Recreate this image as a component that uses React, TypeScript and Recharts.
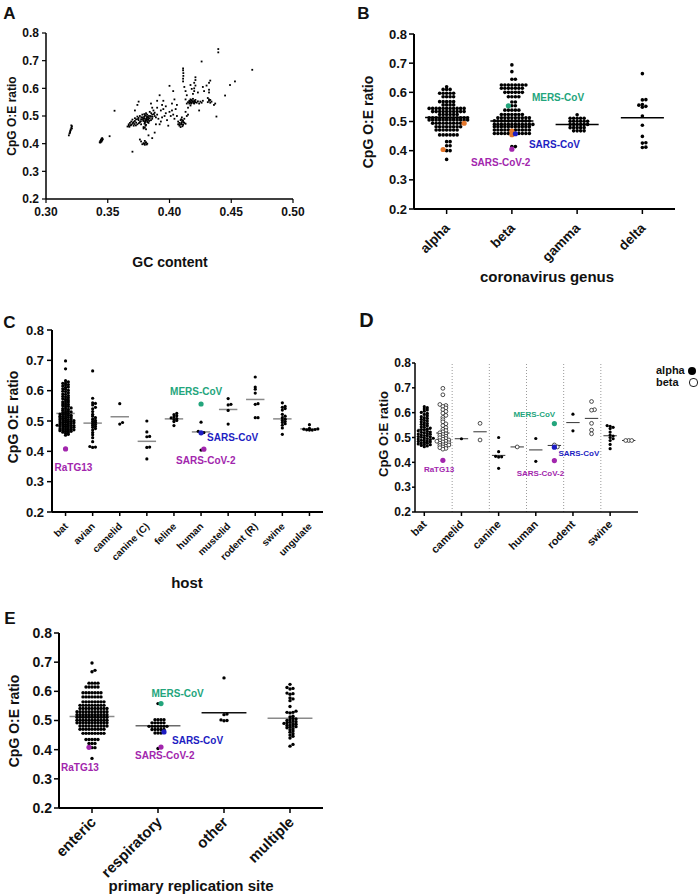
import React from 'react';
import { ScatterChart, Scatter, XAxis, YAxis, ReferenceLine } from 'recharts';

const FONT = '"Liberation Sans", Arial, Helvetica, sans-serif';

// ---------- A: GC content vs CpG O:E ----------
const gcVsCpg: [number, number][] = [
  [0.3185, 0.43], [0.319, 0.437], [0.3195, 0.445], [0.32, 0.452], [0.3205, 0.458], [0.321, 0.463], [0.3205, 0.466], [0.321, 0.455], [0.3195, 0.44], [0.32, 0.448],
  [0.3435, 0.405], [0.344, 0.41], [0.3445, 0.414], [0.345, 0.418], [0.345, 0.408], [0.3455, 0.412], [0.346, 0.416], [0.344, 0.404], [0.3455, 0.42], [0.3445, 0.407],
  [0.3515, 0.427], [0.3555, 0.519], [0.37, 0.371],
  [0.366, 0.462], [0.367, 0.47], [0.367, 0.465], [0.368, 0.475], [0.369, 0.468], [0.369, 0.48], [0.37, 0.472], [0.37, 0.487], [0.371, 0.478], [0.371, 0.465],
  [0.372, 0.482], [0.372, 0.492], [0.373, 0.476], [0.373, 0.488], [0.374, 0.498], [0.374, 0.47], [0.375, 0.485], [0.375, 0.493], [0.376, 0.478], [0.376, 0.5],
  [0.377, 0.488], [0.377, 0.47], [0.378, 0.495], [0.378, 0.505], [0.379, 0.482], [0.379, 0.46], [0.38, 0.49], [0.38, 0.5], [0.38, 0.475], [0.381, 0.51],
  [0.381, 0.485], [0.381, 0.468], [0.382, 0.495], [0.382, 0.48], [0.382, 0.505], [0.383, 0.488], [0.383, 0.475], [0.383, 0.5], [0.384, 0.492], [0.384, 0.515],
  [0.385, 0.485], [0.385, 0.498], [0.386, 0.505], [0.386, 0.49], [0.387, 0.52], [0.388, 0.5], [0.388, 0.512], [0.389, 0.495], [0.39, 0.53], [0.39, 0.505],
  [0.3805, 0.483], [0.3815, 0.492], [0.3795, 0.497], [0.3825, 0.486], [0.3785, 0.489], [0.3808, 0.503], [0.3822, 0.478], [0.3798, 0.472],
  [0.3802, 0.479], [0.3812, 0.488], [0.3792, 0.492], [0.3818, 0.497], [0.3788, 0.484], [0.3828, 0.493], [0.3806, 0.465], [0.3796, 0.507],
  [0.3768, 0.481], [0.3772, 0.495], [0.3836, 0.482], [0.3842, 0.5], [0.3752, 0.474], [0.3745, 0.489], [0.3716, 0.471], [0.3705, 0.476],
  [0.3685, 0.466], [0.3675, 0.461], [0.3728, 0.466], [0.3862, 0.497], [0.3852, 0.51], [0.3874, 0.507],
  [0.379, 0.455], [0.381, 0.452], [0.38, 0.458],
  [0.378, 0.398], [0.379, 0.402], [0.38, 0.396], [0.381, 0.405], [0.382, 0.4], [0.38, 0.41], [0.376, 0.415], [0.377, 0.408],
  [0.3795, 0.399], [0.3805, 0.403], [0.3815, 0.397],
  [0.375, 0.552], [0.372, 0.52], [0.374, 0.54], [0.385, 0.545], [0.386, 0.53], [0.388, 0.44], [0.383, 0.43], [0.386, 0.42], [0.392, 0.47], [0.393, 0.48],
  [0.394, 0.54], [0.395, 0.555], [0.395, 0.525], [0.396, 0.5], [0.397, 0.535], [0.398, 0.485], [0.399, 0.465], [0.392, 0.575], [0.39, 0.555],
  [0.393, 0.52], [0.397, 0.51], [0.391, 0.49], [0.389, 0.47], [0.394, 0.495],
  [0.4, 0.515], [0.401, 0.5], [0.402, 0.52], [0.403, 0.505], [0.404, 0.49], [0.405, 0.525], [0.406, 0.5], [0.407, 0.48], [0.407, 0.47], [0.408, 0.465],
  [0.408, 0.475], [0.409, 0.46], [0.409, 0.485], [0.41, 0.47], [0.41, 0.478], [0.41, 0.495], [0.411, 0.468], [0.411, 0.482], [0.412, 0.475], [0.412, 0.49],
  [0.413, 0.472], [0.414, 0.5], [0.413, 0.515], [0.415, 0.505],
  [0.4085, 0.469], [0.4095, 0.474], [0.4105, 0.463], [0.4115, 0.477], [0.4095, 0.488], [0.4105, 0.485],
  [0.4, 0.609], [0.402, 0.545], [0.404, 0.56], [0.406, 0.54], [0.403, 0.59],
  [0.411, 0.625], [0.411, 0.635], [0.4112, 0.645], [0.4112, 0.655], [0.411, 0.665], [0.411, 0.672], [0.412, 0.605], [0.413, 0.59],
  [0.414, 0.545], [0.415, 0.55], [0.416, 0.555], [0.416, 0.545], [0.417, 0.56], [0.417, 0.55], [0.418, 0.548], [0.418, 0.556], [0.419, 0.552], [0.419, 0.562],
  [0.42, 0.545], [0.42, 0.555], [0.421, 0.55], [0.421, 0.558], [0.422, 0.548], [0.423, 0.553], [0.424, 0.545], [0.425, 0.552], [0.426, 0.548], [0.427, 0.555],
  [0.4165, 0.551], [0.4175, 0.545], [0.4185, 0.553], [0.4195, 0.547], [0.4205, 0.551], [0.4175, 0.557],
  [0.415, 0.53], [0.417, 0.538], [0.413, 0.56], [0.414, 0.575],
  [0.419, 0.58], [0.42, 0.59], [0.42, 0.6], [0.421, 0.61], [0.42, 0.62], [0.421, 0.63], [0.421, 0.64], [0.418, 0.598], [0.417, 0.612], [0.423, 0.585],
  [0.426, 0.697], [0.424, 0.52], [0.427, 0.605], [0.428, 0.59],
  [0.431, 0.55], [0.432, 0.555], [0.432, 0.56], [0.433, 0.548], [0.433, 0.558], [0.434, 0.552], [0.431, 0.565], [0.432, 0.585], [0.432, 0.595], [0.432, 0.62],
  [0.433, 0.628], [0.43, 0.61],
  [0.437, 0.545], [0.436, 0.54], [0.438, 0.498], [0.4395, 0.742], [0.4395, 0.73], [0.445, 0.574], [0.449, 0.612], [0.453, 0.625], [0.467, 0.667],
];
const gcTicks = [0.3, 0.35, 0.4, 0.45, 0.5];
const ratioTicks = [0.2, 0.3, 0.4, 0.5, 0.6, 0.7, 0.8];

// ---------- B: coronavirus genus ----------
const genusLabels = ['alpha', 'beta', 'gamma', 'delta'];
const genusAlpha = [
  0.619, 0.61, 0.61, 0.61, 0.597, 0.597, 0.597, 0.597, 0.597, 0.585, 0.585, 0.585, 0.585,
  0.568, 0.568, 0.568, 0.568, 0.568, 0.557, 0.557, 0.557, 0.557,
  0.545, 0.545, 0.545, 0.545, 0.545, 0.545, 0.545, 0.545, 0.545, 0.545, 0.545,
  0.534, 0.534, 0.534, 0.534, 0.534, 0.534, 0.534, 0.534, 0.534, 0.534,
  0.524, 0.524, 0.524, 0.524, 0.524, 0.524,
  0.513, 0.513, 0.513, 0.513, 0.513, 0.513, 0.513, 0.513, 0.513, 0.513, 0.513, 0.513,
  0.505, 0.505, 0.505, 0.505, 0.505, 0.505, 0.505, 0.505, 0.505, 0.505, 0.505, 0.505,
  0.494, 0.494, 0.494, 0.494, 0.494, 0.494, 0.494, 0.494, 0.494,
  0.482, 0.482, 0.482, 0.482, 0.482, 0.482, 0.482, 0.482,
  0.471, 0.471, 0.471, 0.471, 0.471, 0.471, 0.471,
  0.454, 0.454, 0.454, 0.454, 0.454, 0.454,
  0.431, 0.431, 0.417, 0.417, 0.4, 0.4, 0.37,
];
const genusBeta = [
  0.694, 0.671, 0.645, 0.645,
  0.625, 0.625, 0.625, 0.625, 0.625, 0.625, 0.625, 0.625,
  0.614, 0.614, 0.614, 0.614, 0.614, 0.614, 0.614,
  0.6, 0.6, 0.6, 0.6, 0.6, 0.6, 0.585, 0.585, 0.585, 0.585, 0.567, 0.567, 0.554, 0.554,
  0.539, 0.539, 0.539, 0.539, 0.539,
  0.524, 0.524, 0.524, 0.524, 0.524, 0.524, 0.524,
  0.513, 0.513, 0.513, 0.513, 0.513, 0.513, 0.513, 0.513, 0.513, 0.513,
  0.502, 0.502, 0.502, 0.502, 0.502, 0.502, 0.502, 0.502, 0.502, 0.502, 0.502,
  0.49, 0.49, 0.49, 0.49, 0.49, 0.49, 0.49, 0.49, 0.49, 0.49, 0.49, 0.49,
  0.482, 0.482, 0.482, 0.482, 0.482, 0.482, 0.482, 0.482, 0.482, 0.482, 0.482,
  0.471, 0.471, 0.471, 0.471, 0.471, 0.471, 0.471, 0.471, 0.471, 0.471,
  0.459, 0.459, 0.459, 0.459, 0.459, 0.459, 0.459, 0.459, 0.459,
  0.414, 0.414,
];
const genusGamma = [
  0.523, 0.511, 0.511, 0.511, 0.511, 0.511, 0.501, 0.501, 0.501, 0.501, 0.501, 0.501,
  0.49, 0.49, 0.49, 0.49, 0.49, 0.49, 0.479, 0.479, 0.479, 0.479, 0.479, 0.468, 0.468, 0.468, 0.468,
];
const genusDelta = [0.664, 0.575, 0.574, 0.558, 0.556, 0.552, 0.549, 0.519, 0.487, 0.449, 0.427, 0.426, 0.412, 0.411];
const genusMeans = [0.514, 0.502, 0.49, 0.513];

type Kind = 'hcov' | 'mers' | 'sars' | 'sars2' | 'ratg13';
type Highlight = { group: number; value: number; kind: Kind };

const genusHighlights: Highlight[] = [
  { group: 0, value: 0.494, kind: 'hcov' },
  { group: 0, value: 0.404, kind: 'hcov' },
  { group: 1, value: 0.467, kind: 'hcov' },
  { group: 1, value: 0.455, kind: 'hcov' },
  { group: 1, value: 0.554, kind: 'mers' },
  { group: 1, value: 0.458, kind: 'sars' },
  { group: 1, value: 0.405, kind: 'sars2' },
];

// ---------- C: host ----------
const hostLabels = ['bat', 'avian', 'camelid', 'canine (C)', 'feline', 'human', 'mustelid', 'rodent (R)', 'swine', 'ungulate'];
const batAlpha = [
  0.463, 0.466, 0.468, 0.471, 0.472, 0.474, 0.477, 0.478, 0.481, 0.483, 0.484, 0.486, 0.489, 0.49, 0.492,
  0.494, 0.496, 0.497, 0.499, 0.501, 0.503, 0.504, 0.507, 0.508, 0.51, 0.513, 0.514, 0.516, 0.519, 0.521,
  0.522, 0.525, 0.527, 0.53, 0.532, 0.535, 0.538, 0.541, 0.543, 0.547, 0.55, 0.553, 0.556, 0.559, 0.563,
  0.566, 0.569, 0.573, 0.577, 0.58, 0.584, 0.588, 0.593, 0.597, 0.601, 0.606, 0.611, 0.615, 0.62, 0.624,
];
const batBeta = [
  0.698, 0.672, 0.633, 0.629, 0.625, 0.619, 0.612, 0.605, 0.598, 0.589, 0.581, 0.572, 0.563, 0.555, 0.548,
  0.54, 0.533, 0.528, 0.523, 0.519, 0.515, 0.512, 0.509, 0.505, 0.502, 0.499, 0.496, 0.493, 0.49, 0.487,
  0.485, 0.482, 0.479, 0.477, 0.474, 0.471, 0.468, 0.465, 0.462, 0.459, 0.456, 0.453, 0.47, 0.485,
];
const hostBat = [...batAlpha, ...batBeta];
const hostAvian = [
  0.665, 0.575, 0.56, 0.558, 0.553, 0.545, 0.54, 0.531, 0.522, 0.516, 0.511, 0.506, 0.502, 0.499, 0.496,
  0.492, 0.489, 0.486, 0.482, 0.479, 0.475, 0.47, 0.462, 0.455, 0.445, 0.432, 0.416, 0.414, 0.413,
];
const hostCamelid = [0.557, 0.495, 0.49];
const hostCanine = [0.5, 0.464, 0.449, 0.448, 0.414, 0.413, 0.375];
const hostFeline = [0.525, 0.521, 0.517, 0.513, 0.51, 0.508, 0.505, 0.502, 0.498, 0.485];
const hostHuman = [0.496, 0.466, 0.462, 0.404];
const hostMustelid = [0.574, 0.555, 0.553, 0.535, 0.49];
const hostRodent = [0.645, 0.612, 0.605, 0.592, 0.557, 0.555, 0.511, 0.511];
const hostSwine = [0.56, 0.548, 0.545, 0.541, 0.536, 0.522, 0.516, 0.511, 0.506, 0.502, 0.498, 0.495, 0.491, 0.486, 0.477, 0.456];
const hostUngulate = [0.488, 0.476, 0.474, 0.473, 0.472, 0.471, 0.47, 0.47];
const hostMeans = [0.525, 0.493, 0.514, 0.433, 0.507, 0.464, 0.538, 0.571, 0.507, 0.474];
const hostHighlights: Highlight[] = [
  { group: 0, value: 0.408, kind: 'ratg13' },
  { group: 5, value: 0.556, kind: 'mers' },
  { group: 5, value: 0.461, kind: 'sars' },
  { group: 5, value: 0.407, kind: 'sars2' },
];

// ---------- D: host split by genus (alpha filled, beta open) ----------
const camelidAlpha = [0.495];
const camelidBeta = [0.557, 0.49];
const canineAlpha = [0.5, 0.443, 0.424, 0.422, 0.421, 0.376];
const canineBeta = [0.462];
const humanAlpha = [0.496, 0.404];
const humanBeta = [0.47, 0.462];
const rodentAlpha = [0.594, 0.527];
const rodentBeta = [0.645, 0.612, 0.61, 0.557, 0.53, 0.515];
const swineAlpha = [0.548, 0.545, 0.541, 0.536, 0.522, 0.51, 0.506, 0.5, 0.495, 0.488, 0.472, 0.455];
const swineBeta = [0.488, 0.488, 0.488];
const splitLabels = ['bat', '', 'camelid', '', 'canine', '', 'human', '', 'rodent', '', 'swine', ''];
const splitMeans = [0.533, 0.518, 0.495, 0.523, 0.428, 0.462, 0.45, 0.468, 0.56, 0.577, 0.507, 0.488];
const splitHighlights: Highlight[] = [
  { group: 1, value: 0.408, kind: 'ratg13' },
  { group: 7, value: 0.556, kind: 'mers' },
  { group: 7, value: 0.461, kind: 'sars' },
  { group: 7, value: 0.407, kind: 'sars2' },
];

// ---------- E: primary replication site ----------
const siteLabels = ['enteric', 'respiratory', 'other', 'multiple'];
const siteEnteric = [
  0.697, 0.672, 0.667, 0.628, 0.628, 0.628, 0.628, 0.615, 0.615, 0.615, 0.615, 0.615,
  0.595, 0.595, 0.595, 0.595, 0.595, 0.595, 0.595, 0.581, 0.581, 0.581, 0.581, 0.581, 0.581, 0.581,
  0.564, 0.564, 0.564, 0.564, 0.564, 0.564, 0.564, 0.564,
  0.552, 0.552, 0.552, 0.552, 0.552, 0.552, 0.552, 0.552, 0.552,
  0.541, 0.541, 0.541, 0.541, 0.541, 0.541, 0.541, 0.541, 0.541, 0.541,
  0.53, 0.53, 0.53, 0.53, 0.53, 0.53, 0.53, 0.53, 0.53, 0.53, 0.53,
  0.52, 0.52, 0.52, 0.52, 0.52, 0.52, 0.52, 0.52, 0.52, 0.52, 0.52,
  0.511, 0.511, 0.511, 0.511, 0.511, 0.511, 0.511, 0.511, 0.511, 0.511, 0.511,
  0.501, 0.501, 0.501, 0.501, 0.501, 0.501, 0.501, 0.501, 0.501, 0.501, 0.501,
  0.492, 0.492, 0.492, 0.492, 0.492, 0.492, 0.492, 0.492, 0.492, 0.492, 0.492,
  0.481, 0.481, 0.481, 0.481, 0.481, 0.481, 0.481, 0.481, 0.481, 0.481,
  0.47, 0.47, 0.47, 0.47, 0.47, 0.47, 0.47, 0.47, 0.47,
  0.456, 0.456, 0.456, 0.456, 0.456, 0.456, 0.456, 0.456,
  0.435, 0.435, 0.435, 0.435, 0.435, 0.421, 0.421, 0.421, 0.407, 0.407, 0.37,
];
const siteRespiratory = [
  0.558, 0.503, 0.503, 0.503, 0.503, 0.492, 0.492, 0.492, 0.492, 0.492,
  0.48, 0.48, 0.48, 0.48, 0.48, 0.48, 0.48, 0.469, 0.469, 0.469, 0.469, 0.469, 0.457, 0.457, 0.457, 0.404,
];
const siteOther = [0.646, 0.522, 0.52, 0.502, 0.5, 0.499];
const siteMultiple = [
  0.624, 0.613, 0.61, 0.608, 0.594, 0.592, 0.59, 0.577, 0.574, 0.568, 0.548, 0.532, 0.528, 0.528, 0.526,
  0.515, 0.512, 0.507, 0.505, 0.503, 0.5, 0.498, 0.496, 0.494, 0.492, 0.49, 0.489, 0.487, 0.485, 0.483,
  0.481, 0.479, 0.477, 0.475, 0.472, 0.468, 0.464, 0.46, 0.455, 0.45, 0.446, 0.44, 0.418, 0.412,
];
const siteMeans = [0.514, 0.482, 0.527, 0.508];
const siteHighlights: Highlight[] = [
  { group: 0, value: 0.408, kind: 'ratg13' },
  { group: 1, value: 0.558, kind: 'mers' },
  { group: 1, value: 0.461, kind: 'sars' },
  { group: 1, value: 0.409, kind: 'sars2' },
];

// ---------- shared styling ----------
const KIND_COLOR: Record<Kind, string> = {
  hcov: '#e4772c',
  mers: '#23a57c',
  sars: '#1d1dc2',
  sars2: '#a226ad',
  ratg13: '#a226ad',
};
const KIND_TEXT: Record<Kind, string> = {
  hcov: '',
  mers: 'MERS-CoV',
  sars: 'SARS-CoV',
  sars2: 'SARS-CoV-2',
  ratg13: 'RaTG13',
};

// greedy beeswarm with a box test: points clash when closer than dv vertically and dh horizontally
function swarmOffsets(values: number[], pxPerUnit: number, dh: number, dv: number): number[] {
  const order = values.map((_, i) => i).sort((a, b) => values[a] - values[b]);
  const placed: { x: number; y: number }[] = [];
  const out = new Array(values.length).fill(0);
  for (const i of order) {
    const y = values[i] * pxPerUnit;
    const near = placed.filter((p) => Math.abs(p.y - y) < dv);
    const cands = [0];
    near.forEach((p) => cands.push(p.x + dh, p.x - dh));
    cands.sort((a, b) => Math.abs(a) - Math.abs(b) || b - a);
    let x = 0;
    for (const c of cands) {
      if (near.every((p) => Math.abs(p.x - c) >= dh - 1e-6)) {
        x = c;
        break;
      }
    }
    placed.push({ x, y });
    out[i] = x;
  }
  return out;
}

type SwarmCfg = {
  left: number;
  top: number;
  width: number;
  height: number;
  marginTop: number;
  marginRight: number;
  yAxisWidth: number;
  xAxisHeight: number;
  plotHeight: number;
  groups: number[][];
  labels: string[];
  tickGroups: number[];
  means: number[];
  meanHalf: number;
  meanColors: string[];
  meanWidth: number;
  highlights: Highlight[];
  labelPos: Partial<Record<Kind, [number, number]>>;
  labelSize: number;
  r: number;
  hiR: number;
  dh: number;
  dv: number;
  open?: boolean[];
  openR?: number;
  yFont: number;
  yTickSize: number;
  yTickMargin: number;
  xFont: number;
  xTickSize: number;
  xDx: number;
  xDy: number;
  axisWidth: number;
  dividers?: number[];
};

const RotTick = ({ x, y, payload, labels, fs, dx, dy }: any) => {
  const tx = x + dx;
  const ty = y + dy;
  return (
    <text x={tx} y={ty} transform={`rotate(-45 ${tx} ${ty})`} textAnchor="end" fontSize={fs} fontWeight={700} fontFamily={FONT} fill="#111">
      {labels[Math.floor(payload.value)]}
    </text>
  );
};

const SwarmChart = ({ cfg }: { cfg: SwarmCfg }) => {
  const pw = cfg.width - cfg.yAxisWidth - cfg.marginRight;
  const pxY = cfg.plotHeight / 0.6;
  const pxBand = pw / cfg.groups.length;
  const marginBottom = cfg.height - cfg.marginTop - cfg.plotHeight - cfg.xAxisHeight;

  const filled: { x: number; y: number }[] = [];
  const hollow: { x: number; y: number }[] = [];
  const his: { x: number; y: number; kind: Kind }[] = [];
  cfg.groups.forEach((vals, g) => {
    const hs = cfg.highlights.filter((h) => h.group === g);
    const all = [...vals, ...hs.map((h) => h.value)];
    const off = swarmOffsets(all, pxY, cfg.dh, cfg.dv);
    all.forEach((v, i) => {
      const x = g + 0.5 + off[i] / pxBand;
      if (i < vals.length) (cfg.open && cfg.open[g] ? hollow : filled).push({ x, y: v });
      else his.push({ x, y: v, kind: hs[i - vals.length].kind });
    });
  });
  const labelPts = cfg.highlights
    .filter((h) => KIND_TEXT[h.kind])
    .map((h) => ({ x: h.group + 0.5, y: h.value, kind: h.kind }));

  return (
    <div style={{ position: 'absolute', left: cfg.left, top: cfg.top }}>
      <ScatterChart
        width={cfg.width}
        height={cfg.height}
        margin={{ top: cfg.marginTop, right: cfg.marginRight, bottom: marginBottom, left: 0 }}
      >
        <XAxis
          type="number"
          dataKey="x"
          domain={[0, cfg.groups.length]}
          ticks={cfg.tickGroups.map((i) => i + 0.5)}
          interval={0}
          allowDataOverflow
          height={cfg.xAxisHeight}
          axisLine={{ stroke: '#000', strokeWidth: cfg.axisWidth }}
          tickLine={{ stroke: '#000', strokeWidth: 1.5 }}
          tickSize={cfg.xTickSize}
          tickMargin={2}
          tick={(p: any) => <RotTick {...p} labels={cfg.labels} fs={cfg.xFont} dx={cfg.xDx} dy={cfg.xDy} />}
        />
        <YAxis
          type="number"
          dataKey="y"
          domain={[0.2, 0.8]}
          ticks={ratioTicks}
          interval={0}
          allowDataOverflow
          width={cfg.yAxisWidth}
          axisLine={{ stroke: '#000', strokeWidth: cfg.axisWidth }}
          tickLine={{ stroke: '#000', strokeWidth: 1.5 }}
          tickSize={cfg.yTickSize}
          tickMargin={cfg.yTickMargin}
          tickFormatter={(v: number) => v.toFixed(1)}
          tick={{ fill: '#111', fontSize: cfg.yFont, fontWeight: 700, fontFamily: FONT }}
        />
        {(cfg.dividers || []).map((d) => (
          <ReferenceLine key={'div' + d} x={d} stroke="#9a9a9a" strokeWidth={1} strokeDasharray="1 2" />
        ))}
        <Scatter
          data={filled}
          isAnimationActive={false}
          shape={(p: any) => <circle cx={p.cx} cy={p.cy} r={cfg.r} fill="#000" />}
        />
        <Scatter
          data={hollow}
          isAnimationActive={false}
          shape={(p: any) => <circle cx={p.cx} cy={p.cy} r={cfg.openR || cfg.r} fill="#fff" stroke="#222" strokeWidth={0.8} />}
        />
        {cfg.means.map((m, g) => (
          <ReferenceLine
            key={'mean' + g}
            segment={[
              { x: g + 0.5 - cfg.meanHalf, y: m },
              { x: g + 0.5 + cfg.meanHalf, y: m },
            ]}
            stroke={cfg.meanColors[g % cfg.meanColors.length]}
            strokeWidth={cfg.meanWidth}
            ifOverflow="visible"
          />
        ))}
        <Scatter
          data={his}
          isAnimationActive={false}
          shape={(p: any) => <circle cx={p.cx} cy={p.cy} r={cfg.hiR} fill={KIND_COLOR[p.payload.kind as Kind]} />}
        />
        <Scatter
          data={labelPts}
          isAnimationActive={false}
          shape={(p: any) => {
            const k = p.payload.kind as Kind;
            const off = cfg.labelPos[k] || [0, 0];
            return (
              <text
                x={p.cx + off[0]}
                y={p.cy + off[1]}
                fontSize={cfg.labelSize}
                fontWeight={700}
                fontFamily={FONT}
                fill={KIND_COLOR[k]}
              >
                {KIND_TEXT[k]}
              </text>
            );
          }}
        />
      </ScatterChart>
    </div>
  );
};

const genusCfg: SwarmCfg = {
  left: 350, top: 0, width: 340, height: 285, marginTop: 34, marginRight: 15, yAxisWidth: 64, xAxisHeight: 60, plotHeight: 175,
  groups: [genusAlpha, genusBeta, genusGamma, genusDelta],
  labels: genusLabels, tickGroups: [0, 1, 2, 3],
  means: genusMeans, meanHalf: 0.33, meanColors: ['#000'], meanWidth: 1.5,
  highlights: genusHighlights,
  labelPos: { mers: [20, -5], sars: [17, 14], sars2: [-41, 17] },
  labelSize: 10, r: 1.8, hiR: 2.6, dh: 3.5, dv: 2.2,
  yFont: 13, yTickSize: 5, yTickMargin: 2, xFont: 13.5, xTickSize: 5, xDx: 4, xDy: 13, axisWidth: 2,
};

const hostCfg: SwarmCfg = {
  left: 0, top: 290, width: 330, height: 285, marginTop: 40, marginRight: 7, yAxisWidth: 52, xAxisHeight: 60, plotHeight: 182,
  groups: [hostBat, hostAvian, hostCamelid, hostCanine, hostFeline, hostHuman, hostMustelid, hostRodent, hostSwine, hostUngulate],
  labels: hostLabels, tickGroups: [0, 1, 2, 3, 4, 5, 6, 7, 8, 9],
  means: hostMeans, meanHalf: 0.34, meanColors: ['#8a8a8a'], meanWidth: 1.5,
  highlights: hostHighlights,
  labelPos: { mers: [-31, -9.5], sars: [6, 8.5], sars2: [-25, 15], ratg13: [-11, 22] },
  labelSize: 10, r: 1.6, hiR: 2.6, dh: 2.8, dv: 1.8,
  yFont: 13, yTickSize: 5, yTickMargin: 3, xFont: 10, xTickSize: 4, xDx: 3, xDy: 9, axisWidth: 2,
};

const splitCfg: SwarmCfg = {
  left: 350, top: 330, width: 300, height: 240, marginTop: 33, marginRight: 12, yAxisWidth: 65, xAxisHeight: 58, plotHeight: 149,
  groups: [batAlpha, batBeta, camelidAlpha, camelidBeta, canineAlpha, canineBeta, humanAlpha, humanBeta, rodentAlpha, rodentBeta, swineAlpha, swineBeta],
  labels: splitLabels,
  tickGroups: [0, 2, 4, 6, 8, 10],
  means: splitMeans, meanHalf: 0.36, meanColors: ['#333'], meanWidth: 1,
  highlights: splitHighlights,
  labelPos: { mers: [-41, -6.5], sars: [4, 9], sars2: [-37.7, 15.5], ratg13: [-19, 12] },
  labelSize: 8, r: 1.6, hiR: 2.6, dh: 3.0, dv: 2.0,
  open: [false, true, false, true, false, true, false, true, false, true, false, true], openR: 1.9,
  yFont: 12, yTickSize: 3, yTickMargin: 1, xFont: 11, xTickSize: 4, xDx: 3, xDy: 7, axisWidth: 1.5,
  dividers: [2, 4, 6, 8, 10],
};

const siteCfg: SwarmCfg = {
  left: 0, top: 600, width: 330, height: 296, marginTop: 33, marginRight: 7, yAxisWidth: 59, xAxisHeight: 88, plotHeight: 175,
  groups: [siteEnteric, siteRespiratory, siteOther, siteMultiple],
  labels: siteLabels, tickGroups: [0, 1, 2, 3],
  means: siteMeans, meanHalf: 0.34, meanColors: ['#8a8a8a', '#6a6a6a', '#111', '#8a8a8a'], meanWidth: 1.5,
  highlights: siteHighlights,
  labelPos: { mers: [-6.5, -7], sars: [14, 12.5], sars2: [-23, 12], ratg13: [-31, 24] },
  labelSize: 10, r: 1.7, hiR: 2.6, dh: 3.0, dv: 2.2,
  yFont: 14, yTickSize: 5, yTickMargin: 2, xFont: 15, xTickSize: 5, xDx: 5, xDy: 8, axisWidth: 2,
};

const Txt = ({ x, y, size, rotate, children }: any) => (
  <div
    style={{
      position: 'absolute',
      left: x,
      top: y,
      transform: `translate(-50%, -50%)${rotate ? ` rotate(${rotate}deg)` : ''}`,
      fontFamily: FONT,
      fontWeight: 700,
      fontSize: size,
      lineHeight: 1,
      whiteSpace: 'nowrap',
      color: '#111',
    }}
  >
    {children}
  </div>
);

const GcPanel = () => (
  <div style={{ position: 'absolute', left: 0, top: 0 }}>
    <ScatterChart width={320} height={230} margin={{ top: 33, right: 27, bottom: 0, left: 0 }}>
      <XAxis
        type="number"
        dataKey="x"
        domain={[0.3, 0.5]}
        ticks={gcTicks}
        interval={0}
        allowDataOverflow
        height={31}
        axisLine={{ stroke: '#000', strokeWidth: 1.5 }}
        tickLine={{ stroke: '#000', strokeWidth: 1.2 }}
        tickSize={4}
        tickMargin={4}
        tickFormatter={(v: number) => v.toFixed(2)}
        tick={{ fill: '#111', fontSize: 12, fontWeight: 700, fontFamily: FONT }}
      />
      <YAxis
        type="number"
        dataKey="y"
        domain={[0.2, 0.8]}
        ticks={ratioTicks}
        interval={0}
        allowDataOverflow
        width={46}
        axisLine={{ stroke: '#000', strokeWidth: 1.5 }}
        tickLine={{ stroke: '#000', strokeWidth: 1.2 }}
        tickSize={4}
        tickMargin={3}
        tickFormatter={(v: number) => v.toFixed(1)}
        tick={{ fill: '#111', fontSize: 12, fontWeight: 700, fontFamily: FONT }}
      />
      <Scatter
        data={gcVsCpg.map(([x, y]) => ({ x, y }))}
        isAnimationActive={false}
        shape={(p: any) => <rect x={p.cx - 0.9} y={p.cy - 0.9} width={1.8} height={1.8} fill="#000" />}
      />
    </ScatterChart>
  </div>
);

export default function App() {
  return (
    <div style={{ position: 'absolute', left: 0, top: 0, width: 700, height: 896, background: '#fff', overflow: 'hidden' }}>
      <GcPanel />
      <SwarmChart cfg={genusCfg} />
      <SwarmChart cfg={hostCfg} />
      <SwarmChart cfg={splitCfg} />
      <SwarmChart cfg={siteCfg} />

      <Txt x={9.5} y={13} size={17}>A</Txt>
      <Txt x={12} y={116} size={12} rotate={-90}>CpG O:E ratio</Txt>
      <Txt x={170} y={262} size={14}>GC content</Txt>

      <Txt x={363.5} y={12.5} size={17}>B</Txt>
      <Txt x={368} y={122} size={14} rotate={-90}>CpG O:E ratio</Txt>
      <Txt x={547} y={276} size={15}>coronavirus genus</Txt>

      <Txt x={9.5} y={322} size={17}>C</Txt>
      <Txt x={13} y={417} size={14} rotate={-90}>CpG O:E ratio</Txt>
      <Txt x={187} y={582} size={15}>host</Txt>

      <Txt x={366.5} y={319.5} size={20}>D</Txt>
      <Txt x={383} y={434} size={13} rotate={-90}>CpG O:E ratio</Txt>
      <div
        style={{
          position: 'absolute',
          left: 656,
          top: 364,
          width: 44,
          whiteSpace: 'nowrap',
          fontFamily: FONT,
          fontWeight: 700,
          fontSize: 11,
          lineHeight: '12px',
          color: '#111',
        }}
      >
        <div>
          alpha
          <span style={{ display: 'inline-block', width: 8, height: 8, borderRadius: 4, background: '#000', marginLeft: 3, verticalAlign: -1 }} />
        </div>
        <div>
          beta
          <span style={{ display: 'inline-block', width: 7, height: 7, borderRadius: 4, border: '1px solid #222', marginLeft: 10, verticalAlign: -1 }} />
        </div>
      </div>

      <Txt x={10} y={617.5} size={17}>E</Txt>
      <Txt x={14} y={721} size={14} rotate={-90}>CpG O:E ratio</Txt>
      <Txt x={191} y={885} size={15}>primary replication site</Txt>
    </div>
  );
}
